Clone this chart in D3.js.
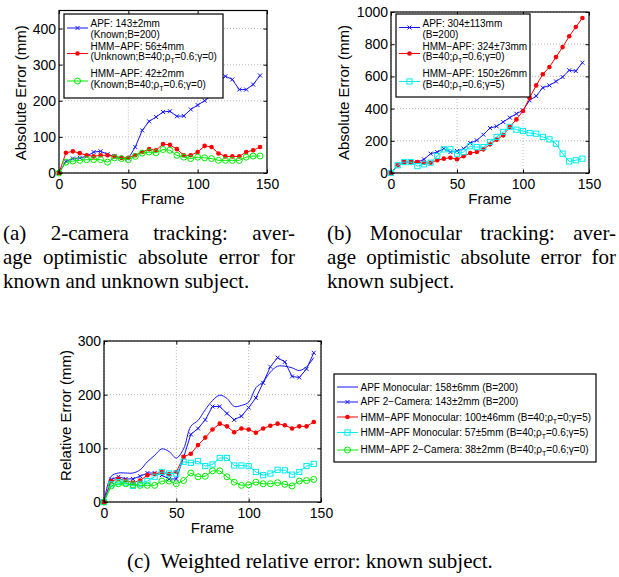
<!DOCTYPE html>
<html>
<head>
<meta charset="utf-8">
<script src="https://cdn.jsdelivr.net/npm/d3@7"></script>
<style>
body { margin: 0; background: #fff; }
svg { display: block; }
.tick text { font-family: "Liberation Sans", Arial, sans-serif; font-size: 14px; fill: #000; }
.lab { font-family: "Liberation Sans", Arial, sans-serif; font-size: 15px; fill: #000; }
.leg { font-family: "Liberation Sans", Arial, sans-serif; font-size: 10px; fill: #000; }
.cap { font-family: "Liberation Serif", "Times New Roman", serif; font-size: 21px; fill: #000; }
</style>
</head>
<body>
<svg id="fig" width="619" height="577"></svg>
<script>
// frame index of every sample (one marker each 5 frames)
var frames = [0, 5, 10, 15, 20, 25, 30, 35, 40, 45, 50, 55, 60, 65, 70, 75, 80, 85, 90, 95, 100, 105, 110, 115, 120, 125, 130, 135, 140, 145];
var xTicks = [0, 50, 100, 150];

// (a) 2-camera tracking
var aApf = [0, 32, 40, 42, 46, 58, 60, 52, 46, 40, 40, 72, 118, 143, 155, 169, 171, 157, 158, 176, 188, 200, 215, 250, 268, 259, 231, 231, 245, 270];
var aHmmUnknown = [0, 56, 60, 55, 49, 46, 49, 49, 46, 42, 42, 49, 58, 66, 63, 80, 78, 66, 49, 49, 58, 75, 72, 54, 46, 46, 46, 58, 63, 72];
var aHmmKnown = [0, 30, 33, 35, 37, 37, 37, 30, 42, 40, 37, 46, 55, 58, 56, 65, 63, 49, 44, 40, 44, 42, 40, 35, 35, 35, 35, 44, 47, 47];
var aYTicks = [0, 100, 200, 300, 400];

// (b) monocular tracking
var bApf = [0, 48, 68, 68, 68, 85, 120, 130, 151, 130, 137, 151, 186, 203, 238, 279, 290, 317, 344, 368, 389, 451, 478, 530, 544, 569, 596, 638, 633, 685];
var bHmmG0 = [0, 48, 68, 68, 68, 64, 64, 79, 89, 95, 85, 104, 124, 130, 147, 178, 207, 234, 286, 333, 385, 468, 544, 613, 658, 720, 782, 849, 907, 963];
var bHmmG5 = [0, 48, 68, 68, 43, 54, 64, 106, 147, 147, 120, 130, 166, 161, 161, 193, 224, 255, 286, 269, 261, 248, 244, 224, 209, 182, 120, 72, 79, 89];
var bYTicks = [0, 200, 400, 600, 800, 1000];

// (c) weighted relative error
var cApfMono = [0, 48, 54, 54, 54, 60, 75, 87, 99, 94, 82, 99, 141, 152, 172, 189, 199, 193, 178, 180, 186, 213, 224, 242, 253, 253, 250, 245, 252, 269];
var cApf2Cam = [0, 42, 47, 43, 43, 48, 54, 54, 50, 43, 43, 83, 126, 137, 153, 178, 178, 165, 153, 160, 176, 194, 222, 252, 269, 261, 234, 232, 248, 278];
var cHmmMono0 = [0, 39, 43, 40, 36, 40, 50, 52, 56, 52, 56, 84, 90, 106, 120, 135, 146, 141, 130, 137, 135, 129, 137, 142, 146, 143, 137, 141, 141, 149];
var cHmmMono6 = [0, 33, 37, 36, 30, 34, 39, 47, 56, 53, 53, 75, 73, 76, 67, 70, 82, 82, 68, 68, 67, 56, 50, 53, 60, 59, 51, 56, 67, 71];
var cHmm2Cam = [0, 30, 34, 34, 32, 31, 31, 31, 39, 39, 34, 40, 54, 47, 48, 58, 58, 47, 37, 31, 32, 37, 34, 34, 36, 33, 30, 39, 40, 42];
var cYTicks = [0, 100, 200, 300];

var svg = d3.select("#fig");
svg.append("rect").attr("width", 619).attr("height", 577).attr("fill", "#fff");

// write a label, "_T" turns into a subscript T
function richText(sel, str) {
  var parts = str.split("_T");
  parts.forEach(function(p, i) {
    if (i > 0) {
      sel.append("tspan").attr("dy", 3).attr("font-size", "7px").text("T");
      sel.append("tspan").attr("dy", -3).text(p);
    } else {
      sel.append("tspan").text(p);
    }
  });
}

function drawMarker(g, kind, color, px, py) {
  if (kind == "x") {
    g.append("path")
      .attr("d", "M" + (px - 2) + "," + (py - 2) + "L" + (px + 2) + "," + (py + 2) +
                 "M" + (px - 2) + "," + (py + 2) + "L" + (px + 2) + "," + (py - 2))
      .attr("stroke", color).attr("stroke-width", 1);
  } else if (kind == "dot") {
    g.append("circle").attr("cx", px).attr("cy", py).attr("r", 2.3).attr("fill", color);
  } else if (kind == "o") {
    g.append("circle").attr("cx", px).attr("cy", py).attr("r", 3)
      .attr("fill", "none").attr("stroke", color).attr("stroke-width", 1);
  } else if (kind == "s") {
    g.append("rect").attr("x", px - 2.6).attr("y", py - 2.6).attr("width", 5.2).attr("height", 5.2)
      .attr("fill", "none").attr("stroke", color).attr("stroke-width", 1);
  }
}

function drawPanel(p) {
  var x = d3.scaleLinear().domain([0, 150]).range([p.left, p.right]);
  var y = d3.scaleLinear().domain([0, p.ymax]).range([p.bottom, p.top]);
  var g = svg.append("g");

  // dotted grid
  g.selectAll(".gx").data(p.xt).enter().append("line")
    .attr("x1", function(d) { return x(d); }).attr("x2", function(d) { return x(d); })
    .attr("y1", p.top).attr("y2", p.bottom)
    .attr("stroke", "#a8a8a8").attr("stroke-dasharray", "1,2").attr("stroke-width", 0.8);
  g.selectAll(".gy").data(p.yt).enter().append("line")
    .attr("y1", function(d) { return y(d); }).attr("y2", function(d) { return y(d); })
    .attr("x1", p.left).attr("x2", p.right)
    .attr("stroke", "#a8a8a8").attr("stroke-dasharray", "1,2").attr("stroke-width", 0.8);

  // series
  p.series.forEach(function(s) {
    var line = d3.line()
      .x(function(d, i) { return x(frames[i]); })
      .y(function(d) { return y(d); });
    if (s.smooth) line.curve(d3.curveCatmullRom.alpha(0.5));
    g.append("path").datum(s.values).attr("d", line)
      .attr("fill", "none").attr("stroke", s.color).attr("stroke-width", 1);
    if (s.marker) {
      s.values.forEach(function(v, i) { drawMarker(g, s.marker, s.color, x(frames[i]), y(v)); });
    }
  });

  // axes, ticks pointing inward on all four sides
  var fmt = d3.format("d");
  g.append("g").attr("transform", "translate(0," + p.bottom + ")")
    .call(d3.axisBottom(x).tickValues(p.xt).tickFormat(fmt).tickSizeInner(-3.5).tickSizeOuter(0).tickPadding(6));
  g.append("g").attr("transform", "translate(" + p.left + ",0)")
    .call(d3.axisLeft(y).tickValues(p.yt).tickFormat(fmt).tickSizeInner(-3.5).tickSizeOuter(0).tickPadding(3));
  g.append("g").attr("transform", "translate(0," + p.top + ")")
    .call(d3.axisTop(x).tickValues(p.xt).tickSizeInner(-3.5).tickSizeOuter(0).tickFormat(""));
  g.append("g").attr("transform", "translate(" + p.right + ",0)")
    .call(d3.axisRight(y).tickValues(p.yt).tickSizeInner(-3.5).tickSizeOuter(0).tickFormat(""));
  g.selectAll(".domain").remove();
  g.selectAll(".tick line").attr("stroke", "#000");

  g.append("rect").attr("x", p.left).attr("y", p.top)
    .attr("width", p.right - p.left).attr("height", p.bottom - p.top)
    .attr("fill", "none").attr("stroke", "#000").attr("stroke-width", 1.2);

  g.append("text").attr("class", "lab").attr("text-anchor", "middle")
    .attr("x", (p.left + p.right) / 2).attr("y", p.bottom + 31).text("Frame");
  g.append("text").attr("class", "lab").attr("text-anchor", "middle")
    .attr("transform", "translate(" + p.ylabX + "," + ((p.top + p.bottom) / 2 + p.ylabShift) + ") rotate(-90)")
    .text(p.ylabel);

  // legend
  var L = p.legend;
  var lg = svg.append("g");
  lg.append("rect").attr("x", L.x).attr("y", L.y).attr("width", L.w).attr("height", L.h)
    .attr("fill", "#fff").attr("stroke", "#000").attr("stroke-width", 1.2);
  p.series.forEach(function(s, i) {
    var ly = L.lineY[i];
    lg.append("line").attr("x1", L.x + 3).attr("x2", L.x + 24).attr("y1", ly).attr("y2", ly)
      .attr("stroke", s.color).attr("stroke-width", 1);
    if (s.marker) drawMarker(lg, s.marker, s.color, L.x + 13.5, ly);
    s.label.forEach(function(t, k) {
      var tx = lg.append("text").attr("class", "leg")
        .attr("x", L.x + 26.5).attr("y", L.textY[i] + k * L.sub);
      richText(tx, t);
    });
  });
}

// justified caption line: words spread to fill [x0, x1]
function capLine(words, x0, x1, yb, justify) {
  var g = svg.append("g");
  var nodes = words.map(function(w) {
    return g.append("text").attr("class", "cap").attr("y", yb).text(w);
  });
  var widths = nodes.map(function(n) { return n.node().getComputedTextLength(); });
  var total = d3.sum(widths);
  var gap = justify ? (x1 - x0 - total) / (words.length - 1) : 5.25;
  var cx = x0;
  nodes.forEach(function(n, i) { n.attr("x", cx); cx += widths[i] + gap; });
}

drawPanel({
  left: 59, right: 267, top: 10.5, bottom: 173, ymax: 450,
  xt: xTicks, yt: aYTicks, ylabel: "Absolute Error (mm)", ylabX: 26, ylabShift: 1,
  series: [
    { values: aApf, color: "#1414ff", marker: "x", label: ["APF: 143±2mm", "(Known;B=200)"] },
    { values: aHmmUnknown, color: "#ff0000", marker: "dot", label: ["HMM\u2212APF: 56±4mm", "(Unknown;B=40;ρ_T=0.6;γ=0)"] },
    { values: aHmmKnown, color: "#00ee00", marker: "o", label: ["HMM\u2212APF: 42±2mm", "(Known;B=40;ρ_T=0.6;γ=0)"] }
  ],
  legend: { x: 64, y: 14, w: 159, h: 84, lineY: [28, 53.5, 81], textY: [27.3, 49.5, 77], sub: 10.5 }
});

drawPanel({
  left: 391, right: 589, top: 12, bottom: 173, ymax: 1000,
  xt: xTicks, yt: bYTicks, ylabel: "Absolute Error (mm)", ylabX: 349, ylabShift: 0,
  series: [
    { values: bApf, color: "#1414ff", marker: "x", label: ["APF: 304±113mm", "(B=200)"] },
    { values: bHmmG0, color: "#ff0000", marker: "dot", label: ["HMM\u2212APF: 324±73mm", "(B=40;ρ_T=0.6;γ=0)"] },
    { values: bHmmG5, color: "#00eeee", marker: "s", label: ["HMM\u2212APF: 150±26mm", "(B=40;ρ_T=0.6;γ=5)"] }
  ],
  legend: { x: 396, y: 14, w: 134, h: 83, lineY: [27.5, 53.5, 81.5], textY: [27, 49.5, 77], sub: 10.5 }
});

drawPanel({
  left: 104, right: 321, top: 341, bottom: 502, ymax: 300,
  xt: xTicks, yt: cYTicks, ylabel: "Relative Error (mm)", ylabX: 71, ylabShift: -6,
  series: [
    { values: cApfMono, color: "#1414ff", smooth: true, label: ["APF Monocular: 158±6mm (B=200)"] },
    { values: cApf2Cam, color: "#1414ff", marker: "x", label: ["APF 2\u2212Camera: 143±2mm (B=200)"] },
    { values: cHmmMono0, color: "#ff0000", marker: "dot", label: ["HMM\u2212APF Monocular: 100±46mm (B=40;ρ_T=0;γ=5)"] },
    { values: cHmmMono6, color: "#00eeee", marker: "s", label: ["HMM\u2212APF Monocular: 57±5mm (B=40;ρ_T=0.6;γ=5)"] },
    { values: cHmm2Cam, color: "#00ee00", marker: "o", label: ["HMM\u2212APF 2\u2212Camera: 38±2mm (B=40;ρ_T=0.6;γ=0)"] }
  ],
  legend: { x: 334, y: 374, w: 262, h: 88, lineY: [387, 402, 417, 432.5, 450], textY: [390.5, 405, 420.5, 436, 453], sub: 0 }
});

// captions
capLine(["(a)", "2-camera", "tracking:", "aver-"], 3, 295, 240, true);
capLine(["age", "optimistic", "absolute", "error", "for"], 3, 295, 264, true);
capLine(["known", "and", "unknown", "subject."], 3, 295, 288, false);
capLine(["(b)", "Monocular", "tracking:", "aver-"], 327, 616, 240, true);
capLine(["age", "optimistic", "absolute", "error", "for"], 327, 616, 264, true);
capLine(["known", "subject."], 327, 616, 288, false);
svg.append("text").attr("class", "cap").attr("x", 127).attr("y", 568)
  .attr("xml:space", "preserve").text("(c)  Weighted relative error: known subject.");
</script>
</body>
</html>
